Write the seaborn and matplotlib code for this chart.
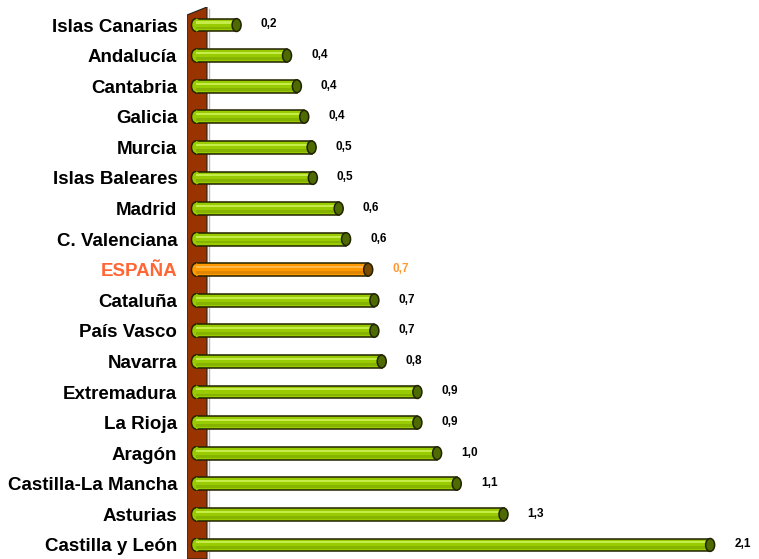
import numpy as np
import pandas as pd
import matplotlib
matplotlib.use("Agg")
import matplotlib.pyplot as plt
import seaborn as sns
from matplotlib.patches import Ellipse, Rectangle, Polygon, Arc

regions = ["Islas Canarias", "Andalucía", "Cantabria", "Galicia", "Murcia",
           "Islas Baleares", "Madrid", "C. Valenciana", "ESPAÑA", "Cataluña",
           "País Vasco", "Navarra", "Extremadura", "La Rioja", "Aragón",
           "Castilla-La Mancha", "Asturias", "Castilla y León"]
values = [0.165, 0.37, 0.41, 0.44, 0.47, 0.475, 0.58, 0.61, 0.70, 0.725,
          0.725, 0.755, 0.90, 0.90, 0.98, 1.06, 1.25, 2.09]
labels = ["0,2", "0,4", "0,4", "0,4", "0,5", "0,5", "0,6", "0,6", "0,7", "0,7",
          "0,7", "0,8", "0,9", "0,9", "1,0", "1,1", "1,3", "2,1"]
highlight = "ESPAÑA"

green = "#99CC00"
green_cap = "#4D6B00"
orange = "#FF9900"
orange_cap = "#7A4A00"
wall = "#993300"

df = pd.DataFrame({"region": regions, "value": values})
df["grupo"] = np.where(df["region"] == highlight, "esp", "ccaa")

sns.set_style("white")
plt.rcParams["font.family"] = ["Liberation Sans", "DejaVu Sans"]
plt.rcParams["text.color"] = "black"
plt.rcParams["ytick.color"] = "black"

fig = plt.figure(figsize=(7.59, 5.59), dpi=100)
W, H = 759, 559
ax = fig.add_axes([187 / W, 0, 1 - 187 / W, (H - 7) / H])

sns.barplot(data=df, x="value", y="region", hue="grupo", orient="h",
            palette={"ccaa": green, "esp": orange}, dodge=False, legend=False,
            width=0.42, edgecolor="#222200", linewidth=1.1, saturation=1, ax=ax, zorder=3)

scale = 246.0  # px per unit
x0 = 196 - 187  # px from axes left to zero
ax.set_xlim(-x0 / scale, (W - 196) / scale)
ax.set_ylim(17.46, -0.59)

# brown wall on the left
wx0, wx1 = -x0 / scale, (207 - 196) / scale
top = -0.59
ax.add_patch(Polygon([(wx0, 17.46), (wx0, top + 8 / 30.6), (wx1, top), (wx1, 17.46)],
                     closed=True, facecolor=wall, edgecolor="#222222", lw=0.8, zorder=1))
ax.plot([wx1 + 2 / scale] * 2, [17.46, top + 2 / 30.6], color="#bbbbbb", lw=1, zorder=1)

# cylinder look
cap_w = 9 / scale
for p in ax.patches:
    if not isinstance(p, Rectangle) or p.get_width() <= 0:
        continue
    x, y, w, h = p.get_x(), p.get_y(), p.get_width(), p.get_height()
    fc = p.get_facecolor()
    is_orange = abs(fc[1] - 0.6) < 0.05 and fc[0] > 0.9
    cap = orange_cap if is_orange else green_cap
    light = "#FFB84D" if is_orange else "#C6EC4A"
    dark = "#E08600" if is_orange else "#86B300"
    # rounded left end
    ax.add_patch(Ellipse((x, y + h / 2), cap_w, h, facecolor=fc, edgecolor="none",
                         zorder=3.2))
    ax.add_patch(Arc((x, y + h / 2), cap_w, h, theta1=90, theta2=270,
                     edgecolor="#222200", lw=1.1, zorder=3.3))
    ax.add_patch(Rectangle((x, y + h * 0.22), w, h * 0.16, facecolor=light,
                           edgecolor="none", zorder=3.5))
    ax.add_patch(Rectangle((x, y + h * 0.62), w, h * 0.22, facecolor=dark,
                           edgecolor="none", zorder=3.5))
    ax.add_patch(Ellipse((x + w, y + h / 2), cap_w, h, facecolor=cap, edgecolor="#222200",
                         lw=1.1, zorder=4))

for i, (v, lab, reg) in enumerate(zip(values, labels, regions)):
    col = "#FF9933" if reg == highlight else "black"
    ax.text(v + 24 / scale, i - 0.02, lab, fontsize=8.5, fontweight="bold", color=col,
            va="center", ha="left")

ax.set_xlabel("")
ax.set_ylabel("")
ax.set_xticks([])
ax.tick_params(axis="y", length=0, pad=7)
for t in ax.get_yticklabels():
    t.set_fontsize(13.5)
    t.set_fontweight("bold")
    t.set_color("black")
    if t.get_text() == highlight:
        t.set_color("#FF6633")
for s in ax.spines.values():
    s.set_visible(False)

fig.savefig("out.png", dpi=100)
